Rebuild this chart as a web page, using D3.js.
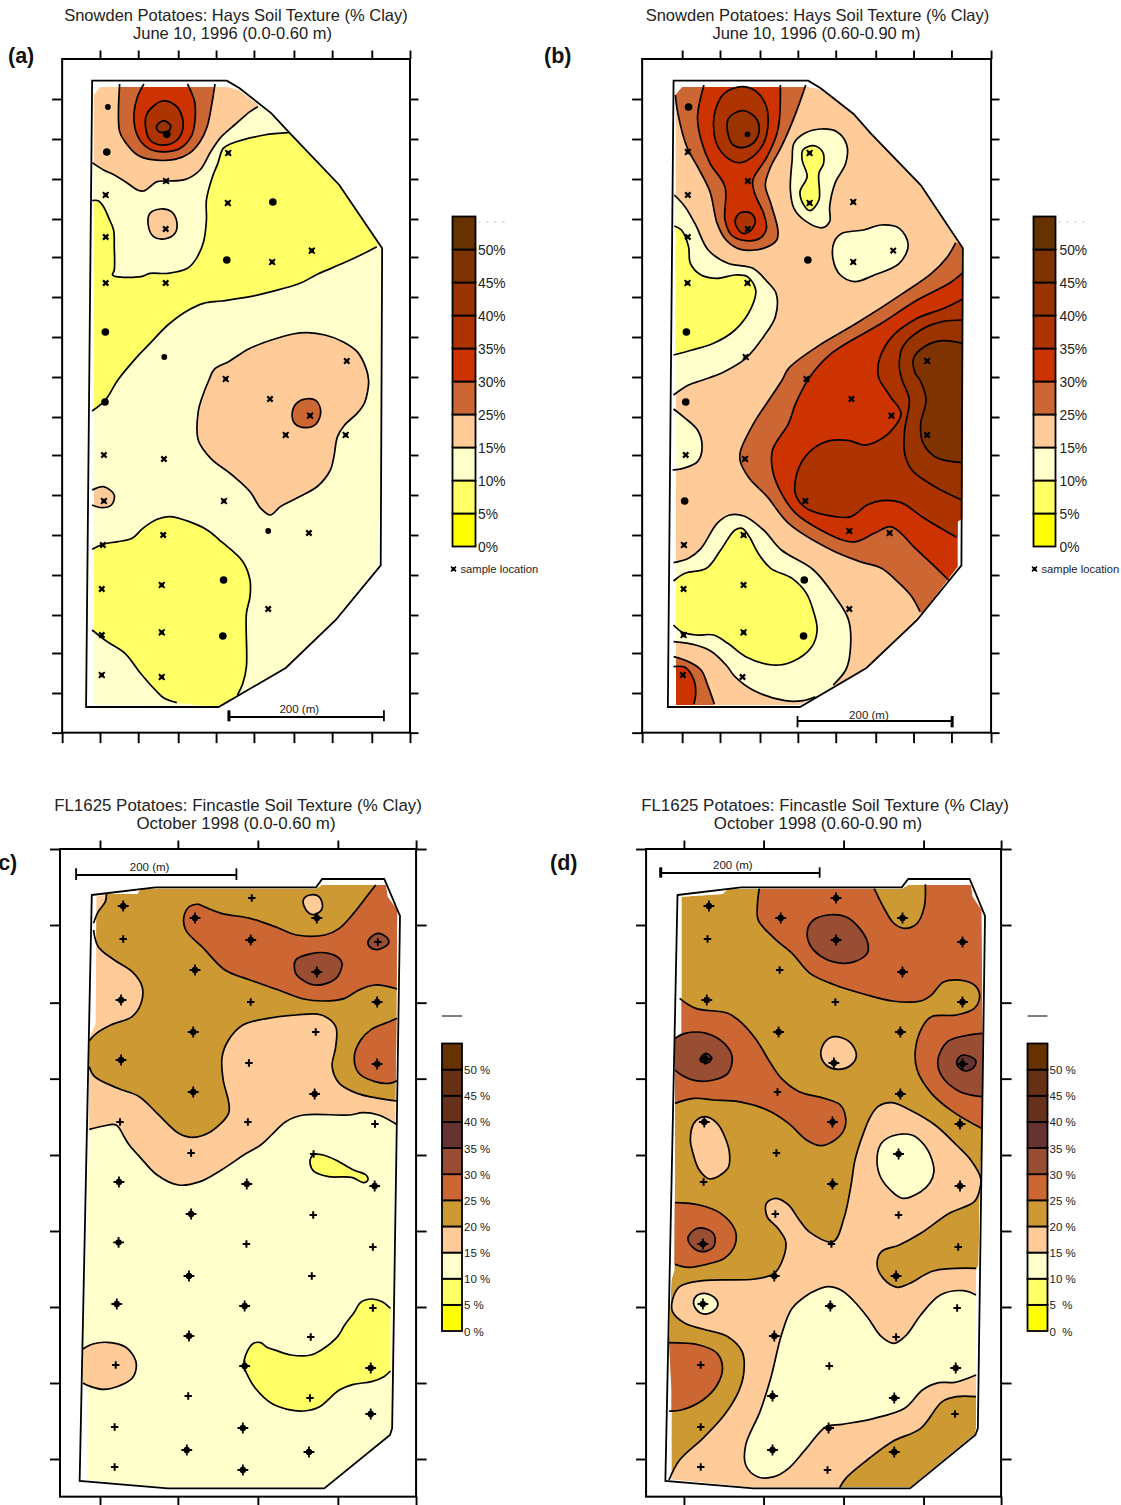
<!DOCTYPE html>
<html><head><meta charset="utf-8">
<script src="https://d3js.org/d3.v7.min.js"></script>
<style>html,body{margin:0;background:#fff}svg{display:block}text{font-family:"Liberation Sans",Arial,sans-serif;fill:#222;white-space:pre}</style>
</head><body><div id="c"></div>
<script>
// ---- legend data ----
const colorsTop=["#FFFF00","#FFFF66","#FFFFCC","#FFCC99","#CC6633","#CC3300","#AD3300","#993300","#7F3300","#663300"];
const labelsTop=["0%","5%","10%","15%","25%","30%","35%","40%","45%","50%"];
const colorsBot=["#FFFF00","#FFFF66","#FFFFCC","#FFCC99","#CC9933","#CC6633","#994D33","#663333","#66301A","#663014","#663300"];
const labelsC=["0 %","5 %","10 %","15 %","20 %","25 %","30 %","35 %","40 %","45 %","50 %"];
const labelsD=["0  %","5  %","10 %","15 %","20 %","25 %","30 %","35 %","40 %","45 %","50 %"];

// ---- axis ticks (digitised map units) ----
const topTicksA=[280,387,499,605,711,823,930,1041,1148];
const botTicksA=[174,280,387,499,605,711,823,930,1041,1148];
const topTicksB=[342,448,560,666,772,884,990,1096,1207];
const botTicksB=[230,342,448,560,666,772,884,990,1096,1207];
const sideTicksAB=[297,417,537,657,771,891,1011,1131,1251,1365,1485,1605,1725,1845,1959,2079,2198];
const topTicksC=[280,498,722,946,1165];
const topTicksD=[347,570,794,1018,1235];
const sideTicksCD=[177,405,638,866,1095,1323,1551,1779,2007];

// ---- field outlines ----
const outlineA=[258,242,635,242,670,264,760,340,810,398,950,555,1070,745,1066,1696,940,1860,800,2004,612,2121,241,2121];
const fieldA=[263,285,280,261,636,261,668,270,758,342,808,398,948,555,1068,745,1066,1550,1060,1570,1060,1696,938,1860,798,2004,612,2118,263,2115];
const outlineB=[318,242,695,242,730,265,822,342,870,400,1010,555,1128,745,1124,1696,1000,1860,858,2004,672,2121,302,2121];
const fieldB=[323,285,342,261,695,261,730,268,820,342,868,400,1008,555,1126,745,1126,1555,1113,1565,1113,1700,1000,1860,858,2004,672,2115,325,2115];
const outlineC=[257,315,435,292,885,292,902,267,1076,267,1120,378,1098,1915,1092,1935,908,2095,470,2095,223,2073];
const fieldC=[270,320,300,312,385,312,395,296,885,296,902,285,1080,285,1085,320,1112,360,1110,700,1100,1550,1095,1915,1090,1935,908,2093,470,2093,243,2070,242,1790,232,1780,232,1660,240,1470,248,1065,250,745,268,700];
const outlineD=[329,315,507,292,957,292,975,267,1147,267,1190,378,1170,1915,1163,1935,980,2095,542,2095,295,2073];
const fieldD=[340,320,455,312,470,296,957,296,975,285,1150,285,1155,320,1180,360,1183,720,1182,1000,1175,1230,1172,1425,1165,1440,1165,1915,1162,1932,980,2092,542,2092,312,2068,312,1800,305,1650,312,1470,320,1440,322,1065,322,745,340,730];

// ---- contour bands: b = band index, s = [contour, edge, contour, edge...], c = closed contour ----
const regionsA=[
{b:3,s:[[258,488,290,510,320,525,355,548,385,570,402,573,440,545,470,543,520,538,560,510,590,455,620,410,660,372,700,335,722,320],[760,250,250,230,250,488]]},
{b:4,s:[[335,252,335,395,350,425,385,465,420,478,490,478,530,460,560,425,580,380,595,300,602,252],[602,230,335,230]]},
{b:5,s:[[403,252,385,290,375,340,378,385,395,425,425,450,470,455,505,445,535,410,545,370,545,305,535,275,525,252],[525,230,403,230]]},
{b:6,c:1,s:[[455,303,490,315,510,350,510,395,490,425,450,435,420,420,408,385,410,345,430,318]]},
{b:7,c:1,s:[[458,362,478,378,470,395,445,395,438,380]]},
{b:1,s:[[258,602,275,602,290,620,305,655,318,690,320,740,320,810,315,825,325,830,395,830,420,820,470,820,525,805,550,775,570,725,578,660,578,600,595,530,610,490,625,445,650,430,740,405,808,398],[1100,700],[1055,740,1010,765,960,790,890,822,840,850,760,875,700,890,620,903,570,910,520,935,470,975,420,1030,380,1075,330,1140,295,1200,258,1233],[250,1233,250,602]]},
{b:3,c:1,s:[[860,998,910,1005,960,1025,1000,1055,1025,1105,1032,1140,1030,1170,1020,1210,1000,1240,965,1275,945,1310,935,1370,925,1410,890,1458,830,1495,785,1520,757,1545,730,1525,700,1475,650,1425,590,1375,555,1320,555,1235,565,1195,585,1140,600,1108,640,1085,700,1045,760,1020,820,1002]]},
{b:4,c:1,s:[[855,1197,885,1202,898,1235,885,1272,855,1283,825,1270,818,1240,830,1210]]},
{b:3,c:1,s:[[450,627,480,635,495,665,490,700,460,717,430,710,415,675,420,640]]},
{b:3,s:[[258,1470,290,1460,320,1485,312,1515,285,1523,258,1515],[250,1515,250,1470]]},
{b:1,s:[[258,1648,290,1632,330,1625,370,1615,400,1585,440,1558,475,1550,530,1565,580,1590,620,1625,680,1685,700,1740,700,1790,690,1840,690,2000,680,2050,665,2085],[620,2125],[495,2108,460,2095,435,2070,390,2015,350,1960,300,1925,258,1890],[250,1890,250,1648]]}
];
const regionsB=[
{b:4,s:[[323,285,330,340,355,440,385,500,420,575,440,670,465,720,505,748,570,745,607,720,610,690,590,610,575,555,590,500,620,440,660,340,688,255],[688,235,320,235]]},
{b:5,s:[[403,255,385,350,395,420,420,490,462,560,462,660,480,705,520,722,560,715,578,685,570,640,545,580,540,540,580,470,610,390,617,255],[617,235,403,235]]},
{b:6,c:1,s:[[510,260,550,275,578,320,582,380,570,430,540,470,505,488,470,475,440,435,430,380,435,330,460,280]]},
{b:7,c:1,s:[[510,332,545,350,558,385,545,425,515,442,485,435,470,400,472,355]]},
{b:6,c:1,s:[[505,638,535,640,547,665,530,695,510,700,490,665]]},
{b:2,s:[[320,585,350,620,380,675,415,750,470,790,540,805,580,845,605,880,603,950,570,1010,520,1075,460,1115,400,1140,360,1155,318,1185],[300,1185,300,585]]},
{b:1,s:[[320,678,340,690,360,740,365,790,395,825,440,835,490,825,525,830,548,870,535,925,490,990,430,1030,370,1050,318,1065],[300,1065,300,678]]},
{b:2,c:1,s:[[730,387,775,395,803,435,800,490,770,550,755,620,755,665,735,683,690,665,655,625,645,570,650,480,655,430,685,400]]},
{b:1,c:1,s:[[710,437,735,455,738,490,725,520,725,600,700,632,680,610,672,575,692,530,678,480,680,450]]},
{b:2,c:1,s:[[900,675,950,685,975,735,950,790,880,825,825,845,785,825,765,780,768,725,790,700,850,690]]},
{b:4,s:[[1108,728,1085,770,1040,820,960,880,830,970,720,1040,640,1105,622,1140,585,1200,545,1265,505,1355,505,1385,530,1435,580,1490,640,1570,760,1650,840,1685,900,1705,950,1750,985,1790,1008,1835],[1020,1850,1140,1700,1140,740]]},
{b:5,s:[[1128,818,1090,850,1000,900,900,970,760,1060,700,1130,660,1210,640,1270,595,1350,595,1410,620,1480,660,1540,730,1590,800,1623,830,1625,880,1600,925,1580,955,1600,990,1640,1040,1690,1088,1740],[1140,1700,1140,818]]},
{b:6,s:[[1128,897,1075,925,1000,955,930,1010,895,1075,890,1120,895,1140,925,1190,955,1240,925,1295,885,1325,850,1335,810,1322,755,1322,710,1345,680,1380,660,1435,660,1485,690,1525,770,1550,815,1550,860,1515,900,1502,955,1508,1020,1555,1110,1612],[1140,1612,1140,897]]},
{b:7,s:[[1128,960,1070,965,1010,990,960,1040,950,1100,958,1140,978,1200,965,1290,965,1360,985,1410,1050,1460,1125,1500],[1140,1500,1140,960]]},
{b:8,s:[[1128,1030,1070,1022,1020,1040,990,1075,995,1120,1008,1140,1025,1200,1010,1270,1015,1325,1050,1370,1125,1388],[1140,1388,1140,1030]]},
{b:2,s:[[318,1227,345,1250,385,1290,398,1340,385,1385,345,1405,315,1410],[300,1410,300,1227]]},
{b:2,s:[[318,1688,360,1675,395,1645,440,1570,475,1545,515,1548,570,1590,620,1650,710,1710,770,1790,808,1860,812,1960,800,2010,765,2055],[760,2100],[715,2090,680,2102,630,2102,540,2070,490,2030,465,1995,425,1955,380,1935,318,1925],[300,1925,300,1688]]},
{b:1,s:[[318,1743,350,1720,410,1705,450,1650,490,1590,510,1585,530,1610,555,1660,590,1705,650,1735,690,1780,710,1835,720,1890,705,1940,650,1985,595,1995,520,1970,470,1930,430,1905,380,1905,340,1895,318,1875],[300,1875,300,1743]]},
{b:4,s:[[318,1970,360,1985,395,2010,415,2060,432,2112],[432,2130,300,2130,300,1970]]},
{b:5,s:[[318,2000,350,2002,375,2040,380,2080,375,2112],[375,2130,300,2130,300,2000]]}
];
const regionsC=[
{b:3,s:[[250,1018,290,1008,325,1005,350,1045,362,1065,395,1105,440,1155,500,1185,560,1175,620,1140,690,1090,730,1065,760,1035,800,995,850,975,980,975,1015,968,1060,975,1110,1003],[1130,1003,1130,250,200,250,200,1018]]},
{b:4,s:[[262,420,275,470,320,510,370,545,398,590,395,640,370,680,310,705,270,730,250,752],[235,790],[250,830,265,860,330,895,390,920,440,970,500,1030,535,1042,590,1025,640,970,640,935,625,870,622,800,640,750,680,705,750,685,830,675,900,675,940,710,940,770,930,830,950,880,1000,910,1060,925,1112,933],[1130,933,1130,270,298,270],[298,312,295,335,275,365,262,400],[]]},
{b:3,c:1,s:[[868,315,893,320,903,350,890,370,870,372,852,350,850,328]]},
{b:5,s:[[555,342,620,370,700,385,770,410,830,435,910,435,950,415,990,370,1030,315,1052,285],[1060,270,1130,270,1130,597],[1112,597,1050,585,1005,600,965,625,905,633,850,627,780,600,700,570,630,540,570,475,520,420,515,380,530,350,555,342],[]]},
{b:6,c:1,s:[[875,490,920,490,950,505,958,520,945,560,915,580,880,585,855,575,828,550,828,510]]},
{b:6,c:1,s:[[1060,430,1085,445,1088,460,1060,478,1040,475,1030,458,1040,440]]},
{b:5,s:[[1112,685,1090,695,1040,718,1010,750,992,800,1005,850,1050,875,1090,880,1112,872],[1130,872,1130,685]]},
{b:1,c:1,s:[[880,1093,905,1095,940,1110,990,1140,1025,1155,1030,1170,1018,1178,985,1162,920,1160,880,1145,868,1120,872,1100]]},
{b:3,s:[[232,1677,260,1662,300,1657,350,1670,375,1700,382,1725,370,1765,335,1787,290,1798,255,1790,232,1779],[220,1779,220,1677]]},
{b:1,s:[[1093,1555,1070,1535,1040,1527,1010,1537,990,1570,965,1605,945,1640,900,1680,870,1695,815,1695,775,1682,745,1670,730,1658,710,1660,692,1685,683,1725,695,1760,715,1795,760,1840,805,1858,850,1863,895,1850,950,1800,990,1783,1040,1775,1075,1760,1093,1743],[]]}
];
const regionsD=[
{b:5,s:[[558,296,553,340,555,390,600,445,650,490,700,550,770,585,850,612,930,633,1010,633,1040,615,1075,575,1135,573,1165,590,1175,620,1160,655,1110,675,1040,680,1015,710,995,780,1000,840,1040,910,1100,965,1180,1015],[1200,1015,1200,270,1023,270],[1023,283,1020,350,1000,400,965,415,935,400,910,360,880,296],[880,280,558,280]]},
{b:6,c:1,s:[[750,375,800,380,835,410,862,460,860,490,825,515,790,520,740,505,700,465,693,420,710,390]]},
{b:6,s:[[1183,730,1130,738,1085,755,1058,810,1070,860,1120,905,1183,920],[1200,920,1200,730]]},
{b:7,c:1,s:[[1130,795,1163,810,1160,830,1135,843,1112,825,1115,805]]},
{b:5,s:[[335,625,380,655,470,670,510,700,550,750,590,820,620,865,670,905,740,925,785,945,800,985,795,1020,770,1050,730,1067,690,1050,640,1000,580,960,500,935,430,930,375,925,322,940],[300,940,300,625]]},
{b:6,s:[[322,745,350,730,410,730,460,760,482,800,470,850,430,870,380,872,340,855,322,840],[305,840,305,745]]},
{b:7,c:1,s:[[408,790,425,805,410,820,392,810]]},
{b:3,c:1,s:[[770,740,810,755,830,795,815,825,780,838,745,825,730,790,745,752]]},
{b:3,s:[[860,1000,890,950,930,938,980,960,1050,1005,1110,1065,1150,1110,1178,1165,1175,1200,1160,1235,1090,1270,1010,1330,950,1365,900,1385,888,1425,905,1465,945,1492,980,1480,1045,1443,1165,1435],[1200,1435,1200,1820],[1165,1820,1110,1820,1070,1835,1010,1915,930,1955,860,2010,800,2065,783,2093],[783,2110,295,2110],[305,2070,335,2010,400,1945,460,1875,500,1805,515,1745,510,1685,470,1640,400,1617,350,1600,315,1565,315,1530,335,1490,400,1472,545,1467,600,1450,625,1405,632,1355,610,1315,580,1280,578,1240,605,1225,640,1245,670,1290,700,1327,765,1355,795,1285,815,1185,825,1115,838,1065,860,1000],[]]},
{b:2,c:1,s:[[930,1038,985,1035,1020,1065,1040,1105,1047,1145,1035,1180,1010,1205,960,1225,925,1200,895,1155,888,1100,900,1060]]},
{b:3,c:1,s:[[405,980,440,1000,465,1050,475,1095,470,1135,420,1167,390,1140,370,1080,365,1050,375,1000]]},
{b:5,s:[[322,1238,390,1245,450,1270,490,1320,490,1365,460,1405,410,1423,360,1432,322,1423],[305,1423,305,1238]]},
{b:6,c:1,s:[[380,1317,410,1317,432,1335,430,1370,400,1385,375,1375,358,1345]]},
{b:2,c:1,s:[[405,1510,435,1525,442,1545,425,1567,395,1570,375,1545,380,1520]]},
{b:5,s:[[305,1658,390,1665,440,1690,455,1735,440,1785,400,1830,340,1860,305,1863],[290,1863,290,1658]]},
{b:2,s:[[700,1510,750,1490,790,1502,820,1530,860,1580,900,1640,935,1660,970,1635,1010,1575,1065,1515,1130,1502,1165,1515],[1180,1515,1180,1755],[1165,1755,1105,1777,1060,1778,1015,1800,965,1855,880,1885,790,1903,745,1910,690,1975,640,2035,600,2060,553,2060,520,2025,520,1965,560,1865,590,1765,620,1635,650,1555,700,1510],[]]}
];

// ---- sample locations: D large dot, d small dot, s square, x cross, B large plus, P small plus ----
const samplesA=[[302,321,"d"],[299,456,"D"],[467,403,"D"],[639,459,"s"],[465,543,"s"],[296,585,"s"],[638,609,"s"],[764,606,"D"],[464,687,"x"],[296,711,"x"],[635,780,"D"],[762,786,"s"],[873,752,"s"],[296,849,"x"],[464,849,"x"],[295,996,"D"],[460,1071,"d"],[971,1083,"x"],[632,1137,"s"],[294,1206,"D"],[756,1197,"x"],[868,1247,"s"],[800,1305,"s"],[968,1305,"s"],[291,1365,"x"],[459,1377,"x"],[291,1503,"s"],[627,1503,"s"],[751,1593,"d"],[865,1599,"x"],[457,1605,"x"],[288,1635,"x"],[285,1767,"x"],[453,1755,"s"],[626,1740,"D"],[751,1827,"x"],[285,1905,"x"],[453,1897,"s"],[624,1908,"D"],[285,2025,"s"],[453,2031,"s"]];
const samplesB=[[360,321,"D"],[358,456,"s"],[525,403,"d"],[699,459,"s"],[526,543,"x"],[358,585,"x"],[699,609,"s"],[821,606,"s"],[526,687,"x"],[358,711,"x"],[694,780,"D"],[821,786,"s"],[933,752,"x"],[357,849,"s"],[525,849,"s"],[354,996,"D"],[520,1071,"s"],[1028,1083,"s"],[690,1137,"x"],[352,1206,"D"],[816,1197,"x"],[928,1247,"s"],[1028,1305,"x"],[352,1365,"x"],[518,1377,"s"],[349,1503,"D"],[687,1503,"x"],[810,1593,"s"],[923,1599,"s"],[514,1605,"s"],[347,1635,"s"],[346,1767,"x"],[514,1755,"x"],[684,1740,"D"],[810,1827,"x"],[346,1905,"s"],[514,1897,"s"],[682,1908,"D"],[344,2025,"x"],[511,2031,"x"]];
const samplesC=[[345,348,"B"],[546,384,"B"],[705,324,"P"],[887,384,"B"],[345,447,"P"],[702,450,"B"],[1058,456,"P"],[546,540,"B"],[887,546,"B"],[339,630,"B"],[702,636,"P"],[1056,636,"B"],[541,726,"B"],[884,726,"P"],[697,819,"P"],[339,810,"B"],[1056,822,"B"],[541,906,"B"],[881,912,"B"],[336,996,"P"],[694,996,"P"],[1050,1002,"P"],[535,1089,"P"],[878,1092,"P"],[333,1176,"B"],[691,1182,"B"],[1049,1188,"B"],[535,1272,"B"],[877,1275,"P"],[332,1357,"B"],[690,1362,"P"],[1044,1371,"P"],[529,1458,"B"],[873,1458,"P"],[327,1542,"B"],[685,1548,"B"],[1044,1554,"P"],[529,1638,"B"],[870,1641,"P"],[324,1725,"P"],[685,1728,"B"],[1038,1734,"B"],[527,1818,"P"],[868,1824,"P"],[1038,1872,"B"],[321,1911,"P"],[680,1914,"B"],[523,1980,"B"],[865,1986,"B"],[321,2031,"P"],[680,2040,"B"]];
const samplesD=[[417,348,"B"],[618,384,"B"],[773,324,"B"],[959,384,"B"],[413,447,"P"],[773,450,"B"],[1127,456,"B"],[615,540,"P"],[959,546,"B"],[411,630,"B"],[771,636,"P"],[1127,636,"B"],[612,726,"B"],[953,726,"B"],[407,807,"B"],[767,819,"B"],[1127,822,"B"],[609,906,"P"],[953,912,"B"],[404,996,"B"],[763,996,"B"],[1120,1002,"B"],[606,1089,"P"],[948,1092,"B"],[402,1176,"P"],[763,1182,"B"],[1120,1188,"B"],[603,1272,"P"],[948,1275,"P"],[400,1362,"B"],[760,1362,"P"],[1115,1371,"P"],[600,1458,"B"],[941,1458,"B"],[400,1542,"B"],[757,1548,"B"],[1112,1554,"P"],[600,1638,"B"],[941,1641,"P"],[394,1725,"P"],[754,1728,"P"],[1108,1734,"B"],[595,1818,"B"],[936,1824,"B"],[1106,1872,"P"],[394,1911,"P"],[752,1914,"B"],[595,1980,"B"],[936,1986,"B"],[394,2031,"P"],[749,2040,"P"]];

// ---- drawing ----
const svg=d3.select("#c").append("svg").attr("width",1121).attr("height",1505);
const pairs=a=>d3.range(0,a.length,2).map(i=>[a[i],a[i+1]]);

function panel(o){
  const X=d3.scaleLinear().domain([0,1568]).range([o.x0,o.x0+560]);
  const Y=d3.scaleLinear().domain([0,1200]).range([o.y0,o.y0+400]);
  const open=d3.line().x(d=>X(d[0])).y(d=>Y(d[1])).curve(d3.curveCatmullRom.alpha(.5));
  const closed=d3.line().x(d=>X(d[0])).y(d=>Y(d[1])).curve(d3.curveCatmullRomClosed.alpha(.5));
  const poly=d3.line().x(d=>X(d[0])).y(d=>Y(d[1]));
  const g=svg.append("g");
  g.append("clipPath").attr("id","clip"+o.id).append("path").attr("d",poly(pairs(o.field))+"Z");
  const [fx0,fx1,fy0,fy1]=o.frame;
  const fills=g.append("g").attr("clip-path",`url(#clip${o.id})`);
  fills.append("path").attr("d",poly(pairs(o.field))+"Z").attr("fill",o.colors[o.base]);
  const lines=g.append("g");
  o.regions.forEach(r=>{
    let d="";
    if(r.c){d=closed(pairs(r.s[0]));}
    else{
      r.s.forEach((seg,i)=>{
        const p=pairs(seg);
        if(!p.length)return;
        if(i%2===0){const s=open(p);d+=i===0?s:s.replace(/^M/,"L");}
        else d+=p.map(q=>`L${X(q[0])},${Y(q[1])}`).join("");
      });
      d+="Z";
    }
    fills.append("path").attr("d",d).attr("fill",o.colors[r.b]);
    r.s.forEach((seg,i)=>{
      if(i%2||!seg.length)return;
      lines.append("path").attr("d",r.c?closed(pairs(seg)):open(pairs(seg))).attr("fill","none").attr("stroke","#000").attr("stroke-width",1.7).attr("stroke-linejoin","round");
    });
  });
  g.append("path").attr("d",poly(pairs(o.outline))+"Z").attr("fill","none").attr("stroke","#000").attr("stroke-width",1.8);
  const ms=g.append("g");
  o.samples.forEach(([sx,sy,t])=>{
    const m=ms.append("g").attr("transform",`translate(${X(sx)},${Y(sy)})`);
    const sym=(ty,size)=>m.append("path").attr("d",d3.symbol().type(ty).size(size)());
    if(t==="D")sym(d3.symbolCircle,46);
    else if(t==="d")sym(d3.symbolCircle,26);
    else if(t==="s"){sym(d3.symbolSquare,20);sym(d3.symbolTimes,24).attr("fill","none").attr("stroke","#000").attr("stroke-width",1.8);}
    else if(t==="x")sym(d3.symbolTimes,20).attr("fill","none").attr("stroke","#000").attr("stroke-width",2.2);
    else if(t==="B"){sym(d3.symbolCircle,32);sym(d3.symbolPlus,40).attr("fill","none").attr("stroke","#000").attr("stroke-width",1.8);}
    else if(t==="P"){sym(d3.symbolPlus,20).attr("fill","none").attr("stroke","#000").attr("stroke-width",2);}
  });
  g.append("rect").attr("x",X(fx0)).attr("y",Y(fy0)).attr("width",X(fx1)-X(fx0)).attr("height",Y(fy1)-Y(fy0)).attr("fill","none").attr("stroke","#000").attr("stroke-width",2);
  const tick=sel=>{sel.select(".domain").remove();sel.selectAll("line").attr("stroke","#000").attr("stroke-width",1.9);};
  g.append("g").attr("transform",`translate(0,${Y(fy0)})`).call(d3.axisTop(X).tickValues(o.topTicks).tickFormat("").tickSize(o.tickLen).tickSizeOuter(0)).call(tick);
  g.append("g").attr("transform",`translate(0,${Y(fy1)})`).call(d3.axisBottom(X).tickValues(o.botTicks).tickFormat("").tickSize(o.botLen).tickSizeOuter(0)).call(tick);
  g.append("g").attr("transform",`translate(${X(fx0)},0)`).call(d3.axisLeft(Y).tickValues(o.sideTicks).tickFormat("").tickSize(10).tickSizeOuter(0)).call(tick);
  g.append("g").attr("transform",`translate(${X(fx1)},0)`).call(d3.axisRight(Y).tickValues(o.sideTicks).tickFormat("").tickSize(o.rightLen).tickSizeOuter(0)).call(tick);
  o.title.forEach((t,i)=>svg.append("text").attr("x",i?o.subX:o.titleX).attr("y",o.titleY+i*18).attr("text-anchor","middle").attr("font-size",o.titleFs).text(t));
  svg.append("text").attr("x",o.labelX).attr("y",o.labelY).attr("font-size",21.5).attr("font-weight","bold").style("fill","#111").text(o.label);
  const [b0,b1,by,bt,bb,tx,ty,thick]=o.bar;
  const sb=svg.append("g").attr("stroke","#000");
  sb.append("line").attr("x1",X(b0)).attr("x2",X(b1)).attr("y1",Y(by)).attr("y2",Y(by)).attr("stroke-width",1.8);
  sb.append("line").attr("x1",X(b0)).attr("x2",X(b0)).attr("y1",Y(bt)).attr("y2",Y(bb)).attr("stroke-width",thick===0?3:1.8);
  sb.append("line").attr("x1",X(b1)).attr("x2",X(b1)).attr("y1",Y(bt)).attr("y2",Y(bb)).attr("stroke-width",thick===1?3:1.8);
  svg.append("text").attr("x",X(tx)).attr("y",Y(ty)).attr("text-anchor","middle").attr("font-size",11.5).text("200 (m)");
}

function legend(o){
  const n=o.colors.length;
  const ly=d3.scaleLinear().domain([0,n]).range([o.bottom,o.top]);
  const g=svg.append("g");
  g.selectAll("rect").data(o.colors).join("rect").attr("x",o.x).attr("width",o.w)
    .attr("y",(d,i)=>ly(i+1)).attr("height",(d,i)=>ly(i)-ly(i+1)).attr("fill",d=>d).attr("stroke","#000").attr("stroke-width",1.8);
  g.selectAll("text").data(o.labels).join("text").attr("x",o.x+o.w+o.gap).attr("y",(d,i)=>ly(i)+o.dy).attr("font-size",o.fs).text(d=>d);
  if(o.sample){
    const m=svg.append("g").attr("transform",`translate(${o.x+1},569)`);
    m.append("path").attr("d",d3.symbol().type(d3.symbolSquare).size(14)());
    m.append("path").attr("d",d3.symbol().type(d3.symbolTimes).size(18)()).attr("fill","none").attr("stroke","#000").attr("stroke-width",1.5);
    svg.append("text").attr("x",o.x+8).attr("y",573).attr("font-size",11.2).text("sample location");
    svg.append("line").attr("x1",o.x+o.w+3).attr("x2",o.x+o.w+30).attr("y1",222).attr("y2",222).attr("stroke","#bbb").attr("stroke-dasharray","2 6");
  }else{
    svg.append("line").attr("x1",o.x).attr("x2",o.x+o.w).attr("y1",1016).attr("y2",1016).attr("stroke","#000").attr("stroke-width",1);
  }
}

panel({id:"a",x0:0,y0:0,base:2,colors:colorsTop,regions:regionsA,outline:outlineA,field:fieldA,samples:samplesA,frame:[174,1148,177,2198],
  topTicks:topTicksA,botTicks:botTicksA,sideTicks:sideTicksAB,tickLen:8.5,botLen:10.5,rightLen:8.5,titleFs:16.5,
  title:["Snowden Potatoes: Hays Soil Texture (% Clay)","June 10, 1996 (0.0-0.60 m)"],titleX:236,subX:232.5,titleY:20.5,label:"(a)",labelX:8,labelY:63,
  bar:[641,1075,2151,2131,2164,838,2140,0]});
panel({id:"b",x0:560,y0:0,base:3,colors:colorsTop,regions:regionsB,outline:outlineB,field:fieldB,samples:samplesB,frame:[230,1207,177,2198],
  topTicks:topTicksB,botTicks:botTicksB,sideTicks:sideTicksAB,tickLen:8.5,botLen:10.5,rightLen:8.5,titleFs:16.5,
  title:["Snowden Potatoes: Hays Soil Texture (% Clay)","June 10, 1996 (0.60-0.90 m)"],titleX:817.5,subX:816.5,titleY:20.5,label:"(b)",labelX:544,labelY:63,
  bar:[665,1098,2163,2148,2182,865,2158,1]});
panel({id:"c",x0:0,y0:790,base:2,colors:colorsBot,regions:regionsC,outline:outlineC,field:fieldC,samples:samplesC,frame:[168,1165,177,2120],
  topTicks:topTicksC,botTicks:topTicksC,sideTicks:sideTicksCD,tickLen:8.5,botLen:8.5,rightLen:10.5,titleFs:16.9,
  title:["FL1625 Potatoes: Fincastle Soil Texture (% Clay)","October 1998 (0.0-0.60 m)"],titleX:238,subX:236,titleY:810.5,label:"(c)",labelX:-9,labelY:870,
  bar:[213,662,255,235,270,419,242,-1]});
panel({id:"d",x0:560,y0:790,base:4,colors:colorsBot,regions:regionsD,outline:outlineD,field:fieldD,samples:samplesD,frame:[241,1235,177,2120],
  topTicks:topTicksD,botTicks:topTicksD,sideTicks:sideTicksCD,tickLen:8.5,botLen:8.5,rightLen:10.5,titleFs:16.9,
  title:["FL1625 Potatoes: Fincastle Soil Texture (% Clay)","October 1998 (0.60-0.90 m)"],titleX:825,subX:818,titleY:810.5,label:"(d)",labelX:550,labelY:870,
  bar:[282,727,249,232,263,484,236,0]});

legend({colors:colorsTop,labels:labelsTop,x:452.5,w:23,top:216.5,bottom:546.5,gap:2.5,dy:5,fs:13.8,sample:true});
legend({colors:colorsTop,labels:labelsTop,x:1033.5,w:22,top:216.5,bottom:546.5,gap:4,dy:5,fs:13.8,sample:true});
legend({colors:colorsBot,labels:labelsC,x:442,w:20,top:1043.5,bottom:1331,gap:2,dy:4.5,fs:11.5,sample:false});
legend({colors:colorsBot,labels:labelsD,x:1027.5,w:20,top:1043.5,bottom:1331,gap:2,dy:4.5,fs:11.5,sample:false});
</script></body></html>
